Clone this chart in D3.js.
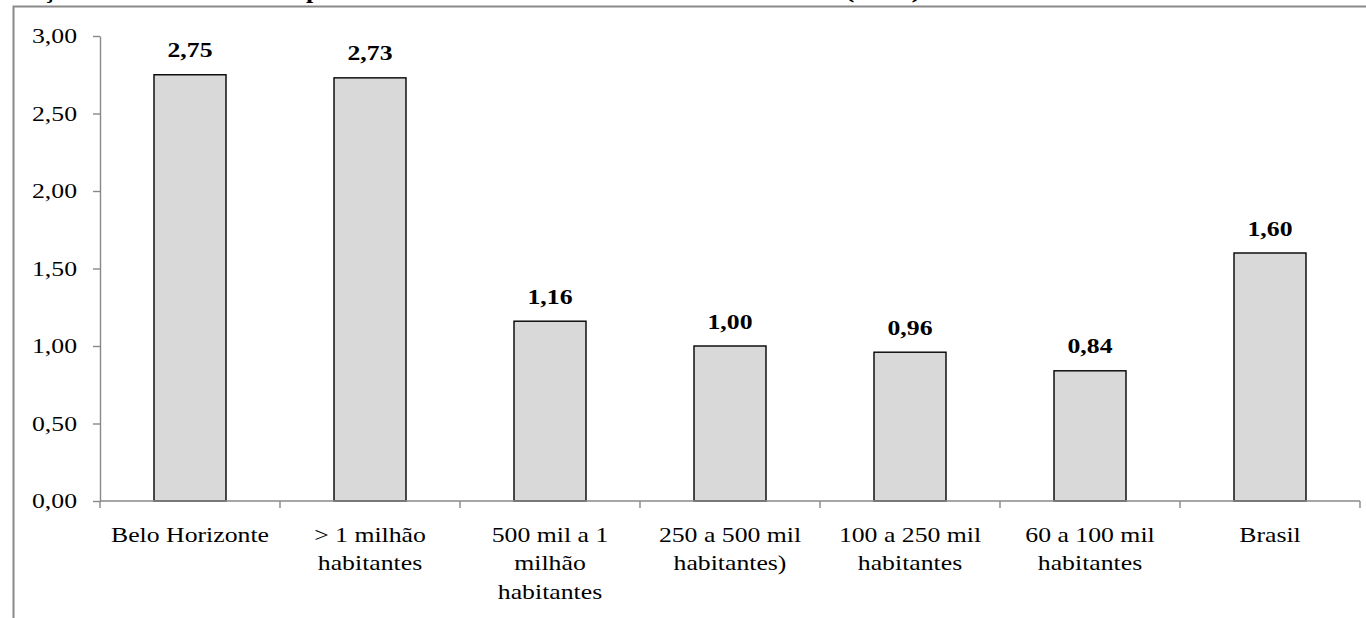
<!DOCTYPE html>
<html>
<head>
<meta charset="utf-8">
<script src="https://cdn.jsdelivr.net/npm/d3@7"></script>
<style>
  html, body { margin: 0; padding: 0; background: #fff; overflow: hidden; }
  svg { display: block; }
  text { font-family: "Liberation Serif", "Times New Roman", serif; fill: #000; }
</style>
</head>
<body>
<svg id="chart" width="1366" height="618"></svg>
<script>
// ---- data ----
const titleParts = [
  "Relação de médicos atuantes",
  "por 1.000 habitantes em Belo Horizonte e Brasil",
  "(2010)"
];
const categories = [
  "Belo Horizonte",
  "> 1 milhão\nhabitantes",
  "500 mil a 1\nmilhão\nhabitantes",
  "250 a 500 mil\nhabitantes)",
  "100 a 250 mil\nhabitantes",
  "60 a 100 mil\nhabitantes",
  "Brasil"
];
const values = [2.75, 2.73, 1.16, 1.00, 0.96, 0.84, 1.60];
const yTicks = [0, 0.5, 1.0, 1.5, 2.0, 2.5, 3.0];

// ---- setup ----
const svg = d3.select("#chart");
const W = 1366, H = 618;
const sx = 1.17; // horizontal stretch of the text in the reference
const fontSize = 22;
const margin = { left: 100, right: 6, top: 36, bottom: 117 };

const ptBR = d3.formatLocale({ decimal: ",", thousands: ".", grouping: [3], currency: ["R$", ""] });
const fmt = ptBR.format(".2f");

const x = d3.scaleBand()
  .domain(categories)
  .range([margin.left, W - margin.right])
  .paddingInner(0.6)
  .paddingOuter(0.3);

const y = d3.scaleLinear()
  .domain([0, 3])
  .range([H - margin.bottom, margin.top]);

// outer frame (extends past the visible window)
svg.append("rect")
  .attr("x", 13.5).attr("y", 6.5)
  .attr("width", 1500).attr("height", 800)
  .attr("fill", "none")
  .attr("stroke", "#8a8a8a")
  .attr("stroke-width", 2);

// title (cut off at the top of the window, only descenders show)
const titleSpans = [[-5, 305], [306, 532], [845, 76]];
svg.append("g").selectAll("text")
  .data(titleParts)
  .join("text")
  .attr("x", (d, i) => titleSpans[i][0])
  .attr("y", -1.8)
  .attr("textLength", (d, i) => titleSpans[i][1])
  .attr("lengthAdjust", "spacingAndGlyphs")
  .attr("font-size", fontSize)
  .attr("font-weight", "bold")
  .text(d => d);

// bars
svg.append("g").selectAll("rect")
  .data(values)
  .join("rect")
  .attr("x", (d, i) => x(categories[i]))
  .attr("y", d => y(d))
  .attr("width", x.bandwidth())
  .attr("height", d => y(0) - y(d))
  .attr("fill", "#d9d9d9")
  .attr("stroke", "#000")
  .attr("stroke-width", 1.4);

// y axis
const yAxis = svg.append("g")
  .attr("transform", `translate(${margin.left},0)`)
  .call(d3.axisLeft(y).tickValues(yTicks).tickFormat(fmt).tickSize(7).tickPadding(16).tickSizeOuter(0));
yAxis.select(".domain").attr("stroke", "#888").attr("stroke-width", 1.4);
yAxis.selectAll(".tick line").attr("stroke", "#888").attr("stroke-width", 1.4);
yAxis.selectAll(".tick text")
  .attr("font-family", "Liberation Serif")
  .attr("font-size", fontSize)
  .attr("x", -23 / sx)
  .attr("transform", `scale(${sx},1)`)
  .attr("dy", "0.3em");

// x axis line with ticks at band boundaries
const xAxisG = svg.append("g").attr("transform", `translate(0,${y(0)})`);
const step = x.step();
const boundaries = d3.range(categories.length + 1).map(i => margin.left + i * step);
xAxisG.append("line")
  .attr("x1", boundaries[0]).attr("x2", boundaries[boundaries.length - 1])
  .attr("y1", 0).attr("y2", 0)
  .attr("stroke", "#888").attr("stroke-width", 1.4);
xAxisG.selectAll("line.tick")
  .data(boundaries)
  .join("line")
  .attr("class", "tick")
  .attr("x1", d => d).attr("x2", d => d)
  .attr("y1", 0).attr("y2", 7)
  .attr("stroke", "#888").attr("stroke-width", 1.4);

// category labels
const catG = svg.append("g");
categories.forEach(c => {
  const lines = c.split("\n");
  const t = catG.append("text")
    .attr("transform", `translate(${x(c) + x.bandwidth() / 2},${y(0) + 40.5}) scale(${sx},1)`)
    .attr("text-anchor", "middle")
    .attr("font-size", fontSize);
  lines.forEach((ln, k) => {
    t.append("tspan").attr("x", 0).attr("y", k * 29).text(ln);
  });
});

// value labels
svg.append("g").selectAll("text")
  .data(values)
  .join("text")
  .attr("transform", (d, i) => `translate(${x(categories[i]) + x.bandwidth() / 2},${y(d) - 17.5}) scale(${sx},1)`)
  .attr("text-anchor", "middle")
  .attr("font-size", fontSize)
  .attr("font-weight", "bold")
  .text(d => fmt(d));
</script>
</body>
</html>
